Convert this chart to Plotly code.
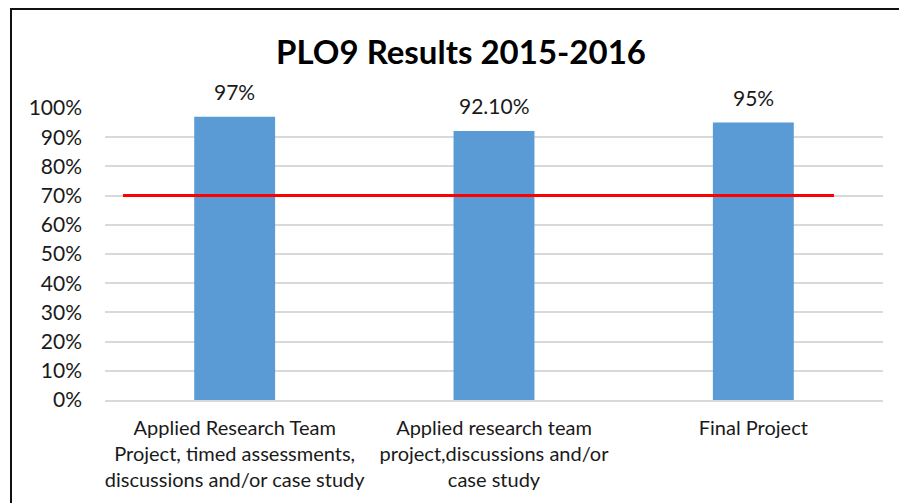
import plotly.graph_objects as go

categories = [
    "Applied Research Team<br>Project, timed assessments,<br>discussions and/or case study",
    "Applied research team<br>project,discussions and/or<br>case study",
    "Final Project",
]
values = [0.97, 0.921, 0.95]
value_labels = ["97%", "92.10%", "95%"]
target = 0.70
y_ticks = [i / 10 for i in range(11)]
y_tick_labels = [f"{int(t*100)}%" for t in y_ticks]
title_text = "PLO9 Results 2015-2016"

FONT = "Lato, Carlito, Calibri, sans-serif"
W, H = 899, 503
L, R, T, B = 105, 16, 108, 103
pw = W - L - R
ph = H - T - B

fig = go.Figure()
fig.add_trace(go.Bar(
    x=categories, y=values,
    marker=dict(color="#5B9BD5", line=dict(width=0)),
    hoverinfo="skip",
))

for c, v, t in zip(categories, values, value_labels):
    fig.add_annotation(x=c, y=v, text=t, showarrow=False, yanchor="bottom",
                       yshift=11, font=dict(family=FONT, size=21, color="#1a1a1a"))

# target line
fig.add_shape(type="line", xref="paper", yref="y",
              x0=(123 - L) / pw, x1=(834 - L) / pw, y0=target, y1=target,
              line=dict(color="#FF0000", width=3), layer="above")

# outer frame (left and top edges)
fx = (11 - L) / pw
fy = 1 + (T - 9) / ph
fig.add_shape(type="path", xref="paper", yref="paper",
              path=f"M {fx} -0.5 L {fx} {fy} L 1.05 {fy}",
              line=dict(color="#111111", width=2))

fig.update_layout(
    width=W, height=H,
    margin=dict(l=L, r=R, t=T, b=B),
    paper_bgcolor="white", plot_bgcolor="white",
    bargap=0.688,
    showlegend=False,
    title=dict(text="<b>" + title_text + "</b>", x=461 / W, xanchor="center",
               y=1 - 52 / H, yanchor="middle",
               font=dict(family=FONT, size=33, color="#000000")),
    font=dict(family=FONT, size=20, color="#1a1a1a"),
)
fig.update_yaxes(range=[0, 1], tickvals=y_ticks, ticktext=y_tick_labels,
                 showgrid=True, gridcolor="#D9D9D9", gridwidth=1.5,
                 zeroline=False, showline=False, ticks="", ticklabelstandoff=22,
                 tickfont=dict(family=FONT, size=21, color="#1a1a1a"))
fig.update_xaxes(showline=True, linecolor="#D9D9D9", linewidth=1.5, ticks="",
                 ticklabelstandoff=9,
                 tickfont=dict(family=FONT, size=20, color="#1a1a1a"))

fig.write_html("out.html", config={"displayModeBar": False},
               post_script="document.body.style.margin='0';document.body.style.padding='0';")
